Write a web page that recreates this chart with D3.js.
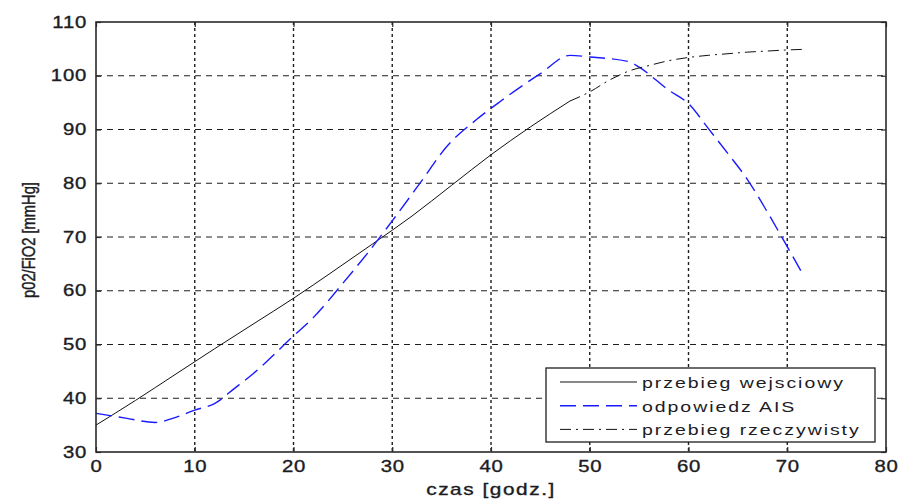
<!DOCTYPE html>
<html>
<head>
<meta charset="utf-8">
<script src="https://cdn.jsdelivr.net/npm/d3@7"></script>
<style>
  html, body { margin: 0; padding: 0; background: #ffffff; }
  svg { display: block; }
  text { font-family: "Liberation Sans", Arial, Helvetica, sans-serif; fill: #1c1c24; }
  .heavy { stroke: #1c1c24; stroke-width: 0.35px; }
</style>
</head>
<body>
<svg id="chart" width="903" height="500"></svg>
<script>
// Input trajectory (solid), hours vs pO2/FiO2
const inputHours  = [0, 4, 8, 12, 16, 20, 24, 28, 32, 36, 40, 44, 48];
const inputValues = [35, 39.6, 44.4, 49.2, 53.9, 58.6, 63.6, 68.7, 73.9, 79.6, 85.3, 90.5, 95.3];

// AIS response (blue dashed)
const aisHours  = [0, 3, 6, 8, 10, 12, 14, 16, 20, 22, 25, 27.5, 30, 33, 35.5, 38.5, 41, 45, 48, 50, 54, 55, 58, 60, 62, 64, 66, 68, 70, 71.5];
const aisValues = [37.2, 36.3, 35.5, 36.4, 37.8, 39.0, 41.8, 44.7, 51.6, 55.0, 61.4, 67.0, 73.0, 80.5, 86.8, 91.8, 95.3, 100.4, 103.8, 103.5, 102.6, 101.6, 97.3, 94.8, 90.2, 85.5, 80.6, 74.6, 68.2, 63.3];

// Actual course (black dash-dot)
const actualHours  = [48, 50, 52, 54, 56, 58, 60, 62, 64, 66, 68, 70, 71.5];
const actualValues = [95.3, 97.0, 99.2, 100.9, 101.9, 102.8, 103.4, 103.8, 104.1, 104.4, 104.6, 104.8, 104.9];

const xTicks = [0, 10, 20, 30, 40, 50, 60, 70, 80];
const yTicks = [30, 40, 50, 60, 70, 80, 90, 100, 110];

const legendLabels = ["przebieg wejsciowy", "odpowiedz AIS", "przebieg rzeczywisty"];
const xTitle = "czas [godz.]";
const yTitle = "p02/FiO2 [mmHg]";

const svg = d3.select("#chart");
const plot = { left: 96, right: 886, top: 22, bottom: 452 };

const x = d3.scaleLinear().domain([0, 80]).range([plot.left, plot.right]);
const y = d3.scaleLinear().domain([30, 110]).range([plot.bottom, plot.top]);

// grid
const grid = svg.append("g");
grid.selectAll("line.vx").data(xTicks.slice(1, -1)).join("line")
  .attr("x1", d => x(d)).attr("x2", d => x(d))
  .attr("y1", plot.top).attr("y2", plot.bottom)
  .attr("stroke", "#1e1e1e").attr("stroke-width", 1.4)
  .attr("stroke-dasharray", "3,3");
grid.selectAll("line.hy").data(yTicks.slice(1, -1)).join("line")
  .attr("x1", plot.left).attr("x2", plot.right)
  .attr("y1", d => y(d)).attr("y2", d => y(d))
  .attr("stroke", "#1e1e1e").attr("stroke-width", 1)
  .attr("stroke-dasharray", "6,5");

// series
const line = d3.line().x(d => x(d[0])).y(d => y(d[1])).curve(d3.curveMonotoneX);
const zip = (a, b) => a.map((v, i) => [v, b[i]]);

const seriesStyles = [
  { data: zip(inputHours, inputValues), color: "#111111", width: 1, dash: null },
  { data: zip(aisHours, aisValues), color: "#1a1aff", width: 1.4, dash: "16,7" },
  { data: zip(actualHours, actualValues), color: "#111111", width: 1, dash: "11,5,2,5" }
];

svg.append("g").selectAll("path").data(seriesStyles).join("path")
  .attr("d", d => line(d.data))
  .attr("fill", "none")
  .attr("stroke", d => d.color)
  .attr("stroke-width", d => d.width)
  .attr("stroke-dasharray", d => d.dash);

// axes: ticks inward on all four sides
const sx = 1.27;
function stretchTicks(g) {
  g.selectAll("text").each(function () {
    const t = d3.select(this);
    const xx = +t.attr("x") || 0;
    t.attr("x", xx / sx).attr("transform", `scale(${sx},1)`);
  });
}

const axisStyle = g => {
  g.select(".domain").remove();
  g.selectAll(".tick line").attr("stroke", "#2a2a2a").attr("stroke-width", 1.2);
  g.selectAll("text").attr("font-size", 16).attr("letter-spacing", 0.6)
    .attr("fill", "#1c1c24").attr("class", "heavy");
};

svg.append("g").attr("transform", `translate(0,${plot.bottom})`)
  .call(d3.axisBottom(x).tickValues(xTicks).tickSizeInner(-5).tickSizeOuter(0).tickPadding(9))
  .call(axisStyle).call(stretchTicks);

svg.append("g").attr("transform", `translate(${plot.left},0)`)
  .call(d3.axisLeft(y).tickValues(yTicks).tickSizeInner(-5).tickSizeOuter(0).tickPadding(9))
  .call(axisStyle).call(stretchTicks);

svg.append("g").attr("transform", `translate(0,${plot.top})`)
  .call(d3.axisTop(x).tickValues(xTicks).tickSizeInner(-5).tickSizeOuter(0).tickFormat(""))
  .call(axisStyle);
svg.append("g").attr("transform", `translate(${plot.right},0)`)
  .call(d3.axisRight(y).tickValues(yTicks).tickSizeInner(-5).tickSizeOuter(0).tickFormat(""))
  .call(axisStyle);

// frame
svg.append("rect")
  .attr("x", plot.left).attr("y", plot.top)
  .attr("width", plot.right - plot.left).attr("height", plot.bottom - plot.top)
  .attr("fill", "none").attr("stroke", "#2a2a2a").attr("stroke-width", 1.6);

// axis titles
svg.append("text")
  .attr("class", "heavy")
  .attr("transform", `translate(${(plot.left + plot.right) / 2},495) scale(1.3,1)`)
  .attr("text-anchor", "middle").attr("font-size", 16).attr("letter-spacing", 1.2)
  .text(xTitle);

svg.append("text")
  .attr("class", "heavy")
  .attr("transform", `translate(35,240) rotate(-90) scale(1,1.3)`)
  .attr("text-anchor", "middle").attr("font-size", 14.7)
  .text(yTitle);

// legend
const legend = svg.append("g");
legend.append("rect")
  .attr("x", 546).attr("y", 368).attr("width", 329).attr("height", 74)
  .attr("fill", "#ffffff").attr("stroke", "#1e1e1e").attr("stroke-width", 1.3);

const legendRows = legend.selectAll("g.row").data(seriesStyles).join("g")
  .attr("transform", (d, i) => `translate(0,${382 + i * 23.7})`);
legendRows.append("line")
  .attr("x1", 560).attr("x2", 637).attr("y1", 0).attr("y2", 0)
  .attr("stroke", d => d.color).attr("stroke-width", d => d.width)
  .attr("stroke-dasharray", d => d.dash);
legendRows.append("text")
  .attr("transform", "translate(642,6) scale(1.3,1)")
  .attr("font-size", 15).attr("letter-spacing", 1.5)
  .text((d, i) => legendLabels[i]);
</script>
</body>
</html>
